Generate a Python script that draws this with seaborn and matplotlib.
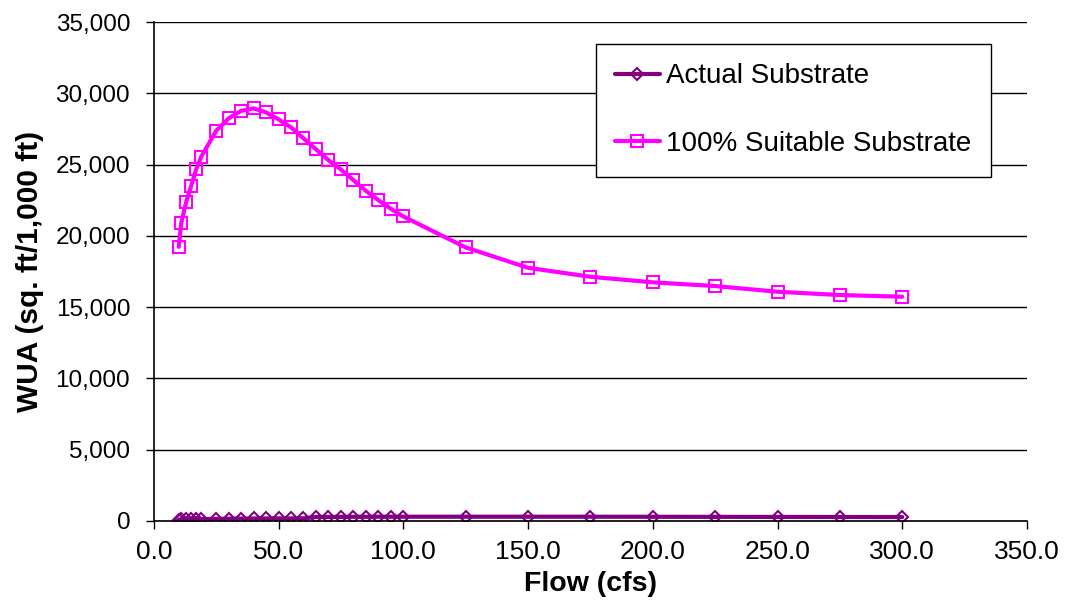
import matplotlib
matplotlib.use("Agg")
import matplotlib.pyplot as plt
import matplotlib.ticker as mticker
import seaborn as sns
import pandas as pd

flow = [10, 11, 13, 15, 17, 19, 25, 30, 35, 40, 45, 50, 55, 60, 65, 70, 75, 80,
        85, 90, 95, 100, 125, 150, 175, 200, 225, 250, 275, 300]
actual = [100, 110, 120, 125, 130, 135, 150, 160, 170, 175, 180, 185, 185, 190,
          280, 285, 290, 295, 295, 300, 300, 300, 300, 300, 300, 295, 290, 285, 280, 275]
suitable = [19230, 20880, 22390, 23510, 24680, 25550, 27370, 28240, 28770, 28940,
            28660, 28170, 27610, 26840, 26070, 25310, 24660, 23910, 23160, 22510,
            21900, 21360, 19190, 17760, 17130, 16740, 16480, 16080, 15850, 15730]

labels = ["Actual Substrate", "100% Suitable Substrate"]

sns.set_theme(style="white")
plt.rcParams["font.family"] = ["Liberation Sans", "DejaVu Sans"]
plt.rcParams["text.color"] = "black"
plt.rcParams["axes.labelcolor"] = "black"
plt.rcParams["xtick.color"] = "black"
plt.rcParams["ytick.color"] = "black"

fig = plt.figure(figsize=(10.68, 6.03), dpi=100)
ax = fig.add_axes([0.144, 0.136, 0.8176, 0.8275])

df_a = pd.DataFrame({"flow": flow, "wua": actual})
df_s = pd.DataFrame({"flow": flow, "wua": suitable})

sns.lineplot(data=df_a, x="flow", y="wua", ax=ax, color="#800080", lw=3,
             marker="D", markersize=6.5, markerfacecolor="none",
             markeredgecolor="#800080", markeredgewidth=1.5, label=labels[0])
sns.lineplot(data=df_s, x="flow", y="wua", ax=ax, color="#FF00FF", lw=3,
             marker="s", markersize=9, markerfacecolor="none",
             markeredgecolor="#FF00FF", markeredgewidth=1.5, label=labels[1])

ax.set_xlim(0, 350)
ax.set_ylim(0, 35000)
ax.xaxis.set_major_locator(mticker.MultipleLocator(50))
ax.yaxis.set_major_locator(mticker.MultipleLocator(5000))
ax.xaxis.set_major_formatter(mticker.FuncFormatter(lambda v, p: f"{v:.1f}"))
ax.yaxis.set_major_formatter(mticker.FuncFormatter(lambda v, p: f"{v:,.0f}"))

ax.grid(axis="y", color="black", lw=1)
ax.grid(axis="x", visible=False)
ax.set_axisbelow(True)
for s in ["top", "right"]:
    ax.spines[s].set_visible(False)
for s in ["left", "bottom"]:
    ax.spines[s].set_color("black")
    ax.spines[s].set_linewidth(1.2)

ax.tick_params(axis="x", which="major", labelsize=19, length=6, width=1,
               color="black", direction="out", bottom=True, pad=8)
ax.tick_params(axis="y", which="major", labelsize=17.5, length=6, width=1,
               color="black", direction="out", left=True, pad=11)

ax.set_xlabel("Flow (cfs)", fontsize=20.5, fontweight="bold", labelpad=5)
ax.set_ylabel("WUA (sq. ft/1,000 ft)", fontsize=21.5, fontweight="bold", labelpad=8)

leg = ax.legend(loc="upper left", bbox_to_anchor=(0.506, 0.956), borderaxespad=0,
                fontsize=20, frameon=True, fancybox=False, framealpha=1,
                edgecolor="black", handlelength=1.6, labelspacing=1.5,
                borderpad=0.7, handletextpad=0.25)
leg.get_frame().set_linewidth(1)

fig.savefig("out.png", dpi=100)
